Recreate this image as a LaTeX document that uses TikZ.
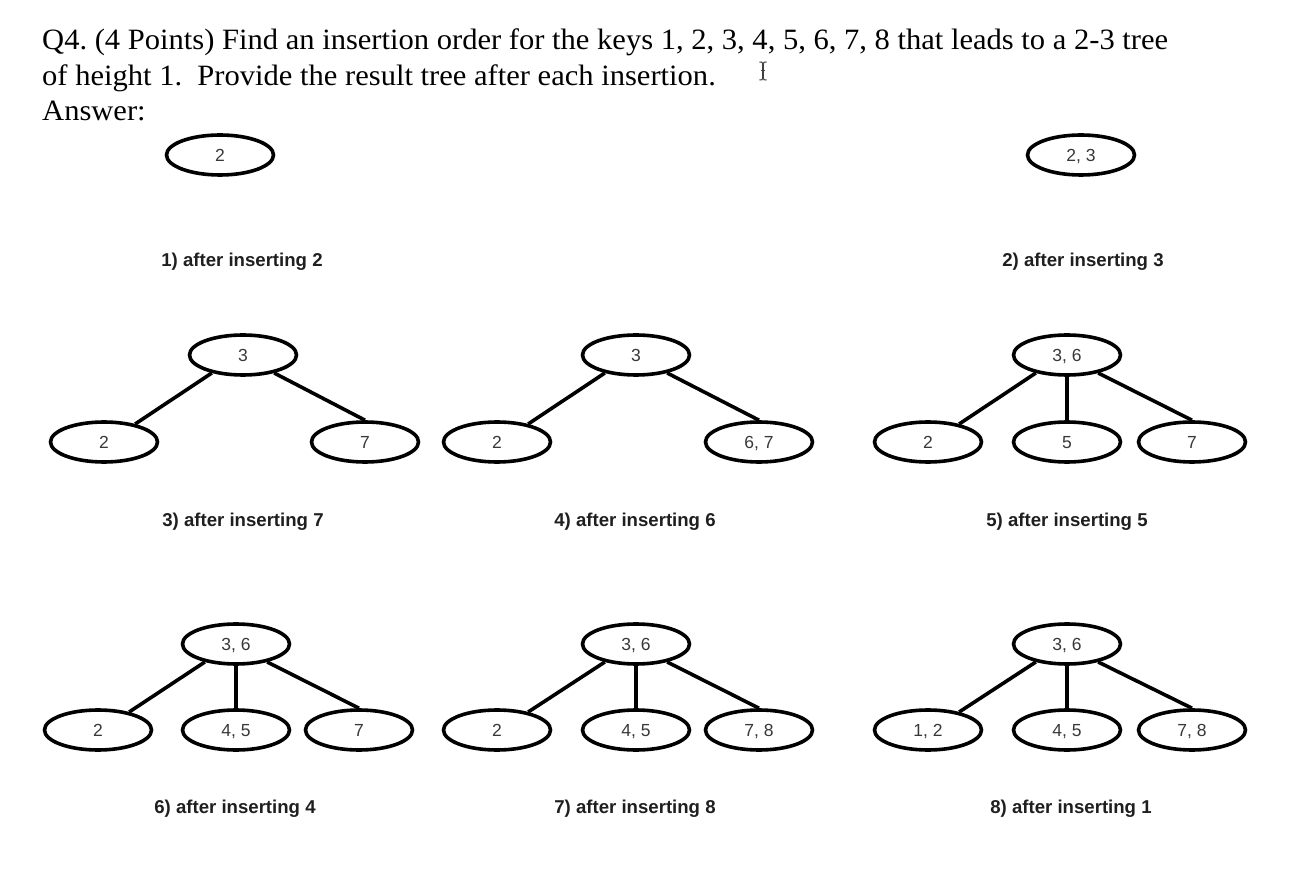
\documentclass[tikz,border=0pt]{standalone}
\usepackage{fontspec}
\setmainfont{Liberation Serif}
\newfontfamily\lblfont{Liberation Sans}
\usetikzlibrary{shapes.geometric}
\newsavebox\hdbox
\newlength\hdw
\frenchspacing
\begin{document}
\frenchspacing
\sbox\hdbox{\fontsize{29.5pt}{34pt}\selectfont Q4. (4 Points) Find an insertion order for the keys 1, 2, 3, 4, 5, 6, 7, 8 that leads to a 2-3 tree}%
\setlength\hdw{\wd\hdbox}%
\pgfmathsetmacro\sx{1126/\hdw}%
\begin{tikzpicture}[x=1pt,y=-1pt,
  keynode/.style={ellipse,draw=black,line width=3.6pt,minimum width=107pt,minimum height=40pt,inner sep=0pt,
    text height=12.5pt,text depth=0pt,
    font=\lblfont\fontsize{17.5pt}{20pt}\selectfont,text=black!78},
  edge/.style={line width=3.6pt,draw=black},
  caption/.style={font=\lblfont\bfseries\fontsize{18.6pt}{21pt}\selectfont,text=black!88,inner sep=0pt},
  hdline/.style={anchor=base west,inner sep=0pt,text=black}]
\fill[white] (0,0) rectangle (1294,874);
\useasboundingbox (0,0) rectangle (1294,874);
% header
\node[hdline] (h1) at (42,50) {\scalebox{\sx}[1]{\usebox\hdbox}};
\node[hdline] (h2) at (42,86) {\scalebox{\sx}[1]{\fontsize{29.5pt}{34pt}\selectfont of height 1.~ Provide the result tree after each insertion.}};
\node[hdline] (h3) at (42,121) {\scalebox{\sx}[1]{\fontsize{29.5pt}{34pt}\selectfont Answer:}};
% cursor
\draw[line width=1.3pt,black!75] (763,63) -- (763,79);
\draw[line width=1.1pt,black!75] (759.5,62) .. controls (762,62) .. (763,64) .. controls (764,62) .. (766.5,62);
\draw[line width=1.1pt,black!75] (759.5,80) .. controls (762,80) .. (763,78) .. controls (764,80) .. (766.5,80);
\draw[line width=1pt,black!75] (761,71) -- (765,71);
% tree 1
\node[keynode] (a1) at (220,155) {2};
\node[caption] (c1) at (242,262) {1) after inserting 2};
% tree 2
\node[keynode] (b1) at (1081,155) {2, 3};
\node[caption] (c2) at (1083,262) {2) after inserting 3};
% tree 3
\node[keynode] (r3) at (243,355) {3};
\node[keynode] (l3) at (104,442) {2};
\node[keynode] (g3) at (365,442) {7};
\draw[edge] (r3.-150) -- (l3.30);
\draw[edge] (r3.-30) -- (g3.north);
\node[caption] (c3) at (243,522) {3) after inserting 7};
% tree 4
\node[keynode] (r4) at (636,355) {3};
\node[keynode] (l4) at (497,442) {2};
\node[keynode] (g4) at (759,442) {6, 7};
\draw[edge] (r4.-150) -- (l4.30);
\draw[edge] (r4.-30) -- (g4.north);
\node[caption] (c4) at (635,522) {4) after inserting 6};
% tree 5
\node[keynode] (r5) at (1067,355) {3, 6};
\node[keynode] (l5) at (928,442) {2};
\node[keynode] (m5) at (1067,442) {5};
\node[keynode] (g5) at (1192,442) {7};
\draw[edge] (r5.-150) -- (l5.30);
\draw[edge] (r5.south) -- (m5.north);
\draw[edge] (r5.-30) -- (g5.north);
\node[caption] (c5) at (1067,522) {5) after inserting 5};
% tree 6
\node[keynode] (r6) at (236,644) {3, 6};
\node[keynode] (l6) at (98,730) {2};
\node[keynode] (m6) at (236,730) {4, 5};
\node[keynode] (g6) at (359,730) {7};
\draw[edge] (r6.-150) -- (l6.30);
\draw[edge] (r6.south) -- (m6.north);
\draw[edge] (r6.-30) -- (g6.north);
\node[caption] (c6) at (235,809) {6) after inserting 4};
% tree 7
\node[keynode] (r7) at (636,644) {3, 6};
\node[keynode] (l7) at (497,730) {2};
\node[keynode] (m7) at (636,730) {4, 5};
\node[keynode] (g7) at (759,730) {7, 8};
\draw[edge] (r7.-150) -- (l7.30);
\draw[edge] (r7.south) -- (m7.north);
\draw[edge] (r7.-30) -- (g7.north);
\node[caption] (c7) at (635,809) {7) after inserting 8};
% tree 8
\node[keynode] (r8) at (1067,644) {3, 6};
\node[keynode] (l8) at (928,730) {1, 2};
\node[keynode] (m8) at (1067,730) {4, 5};
\node[keynode] (g8) at (1192,730) {7, 8};
\draw[edge] (r8.-150) -- (l8.30);
\draw[edge] (r8.south) -- (m8.north);
\draw[edge] (r8.-30) -- (g8.north);
\node[caption] (c8) at (1071,809) {8) after inserting 1};
\end{tikzpicture}
\end{document}
